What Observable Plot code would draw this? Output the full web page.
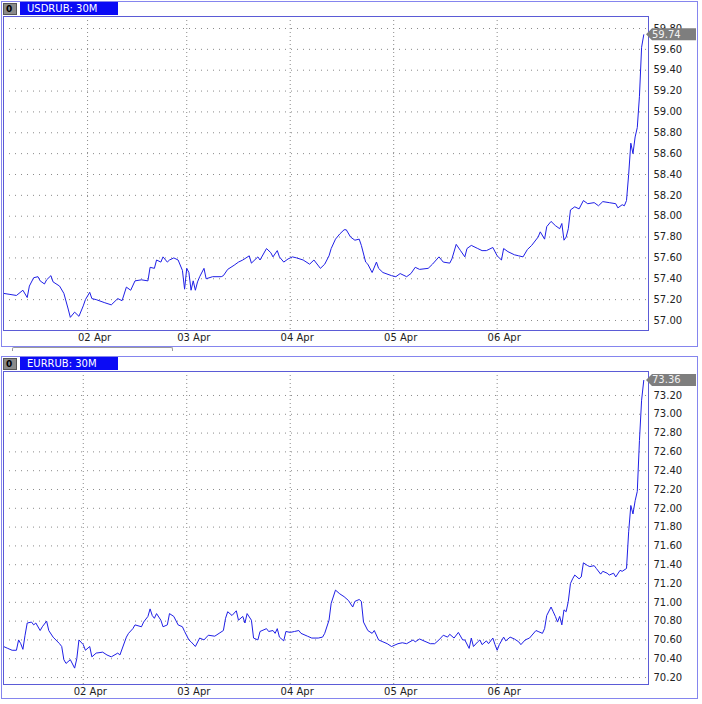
<!DOCTYPE html>
<html><head><meta charset="utf-8">
<script src="https://cdn.jsdelivr.net/npm/d3@7"></script>
<script src="https://cdn.jsdelivr.net/npm/@observablehq/plot@0.6"></script>
<style>
body{margin:0;background:#fff;font-family:"DejaVu Sans",sans-serif;}
.panel{position:absolute;left:1px;width:697px;border:1px solid #8585ee;box-sizing:border-box;background:#fff;}
.hdr{position:absolute;left:0;top:0;height:14px;width:100%;}
.zero{position:absolute;left:1px;top:1px;width:14px;height:12px;background:#8a8a8a;border:1px solid #555;box-sizing:border-box;font-size:9px;font-weight:bold;line-height:10px;padding-left:2px;color:#000;}
.sym{position:absolute;left:18px;top:0;width:98px;height:14px;background:#0b0bf5;color:#fff;font-size:10px;line-height:14px;padding-left:7px;box-sizing:border-box;}
.chart{position:absolute;left:0;}
.scroll{position:absolute;left:12px;top:347px;width:159px;height:3px;border:1px solid #999;border-bottom:none;border-radius:2px 2px 0 0;}
</style>
</head><body>
<div class="panel" id="p1" style="top:1px;height:346px;">
  <div class="hdr"><div class="zero">0</div><div class="sym">USDRUB: 30M</div></div>
  <div class="chart" id="c1" style="top:13px;"></div>
</div>
<div class="scroll"></div>
<div class="panel" id="p2" style="top:356px;height:343px;">
  <div class="hdr" style="top:0"><div class="zero">0</div><div class="sym">EURRUB: 30M</div></div>
  <div class="chart" id="c2" style="top:13px;"></div>
</div>
<script>
// ---- data (x = 30-minute bar index, y = price) ----
const usdBars = [0,3,6,9,11,12,14,16,17,19,20,22,23,26,28,30,31,33,35,37,38,40,41,43,47,50,53,55,57,59,61,64,67,68,70,71,73,74,76,77,79,81,83,84,85,86,87,88,89,90,91,93,94,97,101,102,104,107,109,111,114,115,118,119,122,124,125,127,128,130,132,134,136,139,142,144,147,149,151,152,154,156,158,159,161,163,165,166,168,169,171,173,174,176,180,182,184,187,189,191,193,197,199,202,204,207,208,210,212,214,215,217,220,222,224,227,229,231,232,234,237,239,241,243,245,248,249,251,252,254,256,258,259,260,261,262,263,265,267,269,271,274,276,278,281,284,285,287,288,289,290,291,292,293,294,295,296,297];
const usdValues = [57.26,57.25,57.24,57.29,57.22,57.33,57.41,57.42,57.38,57.35,57.39,57.43,57.37,57.33,57.26,57.11,57.03,57.08,57.04,57.14,57.20,57.27,57.21,57.20,57.17,57.15,57.21,57.19,57.32,57.29,57.38,57.39,57.38,57.51,57.50,57.58,57.56,57.61,57.56,57.58,57.60,57.58,57.48,57.30,57.50,57.46,57.29,57.38,57.29,57.37,57.42,57.50,57.40,57.42,57.42,57.43,57.49,57.53,57.56,57.58,57.62,57.55,57.61,57.58,57.69,57.65,57.61,57.67,57.61,57.56,57.59,57.61,57.60,57.58,57.54,57.58,57.50,57.54,57.62,57.69,57.78,57.83,57.87,57.87,57.80,57.77,57.78,57.72,57.56,57.54,57.46,57.56,57.50,57.46,57.43,57.42,57.45,57.42,57.45,57.51,57.49,57.50,57.54,57.61,57.56,57.55,57.59,57.73,57.67,57.61,57.69,57.72,57.69,57.67,57.67,57.70,57.62,57.58,57.69,57.66,57.63,57.62,57.61,57.68,57.72,57.80,57.85,57.78,57.90,57.95,57.91,57.88,57.93,57.77,57.80,57.88,58.06,58.09,58.07,58.15,58.12,58.13,58.10,58.14,58.13,58.12,58.08,58.11,58.10,58.15,58.40,58.70,58.60,58.76,58.85,59.15,59.62,59.74];

const eurBars = [0,2,4,6,7,8,9,10,11,13,14,15,17,18,20,21,23,26,27,28,29,31,33,34,35,37,38,40,41,43,46,48,50,53,54,57,58,60,61,64,65,67,68,69,70,71,73,74,76,77,79,81,83,84,86,87,89,91,93,95,98,100,102,103,104,106,108,109,111,112,113,115,116,118,119,122,123,125,126,127,128,130,131,133,135,137,138,141,143,146,148,149,151,152,154,156,158,160,162,163,165,166,167,169,171,172,174,176,178,180,183,185,187,190,191,193,196,198,200,202,204,206,207,209,211,213,214,216,217,218,220,221,222,224,225,227,228,229,230,232,233,235,237,239,240,242,244,247,248,250,251,252,254,255,256,257,258,259,260,261,262,263,264,265,267,268,269,271,272,274,275,277,278,280,281,283,284,286,287,289,290,291,292,293,294,295,296,297];
const eurValues = [70.53,70.51,70.49,70.49,70.60,70.56,70.50,70.65,70.78,70.79,70.76,70.78,70.70,70.74,70.80,70.70,70.63,70.56,70.53,70.39,70.35,70.39,70.30,70.40,70.60,70.55,70.49,70.53,70.42,70.46,70.47,70.44,70.42,70.46,70.44,70.63,70.67,70.72,70.76,70.74,70.79,70.85,70.93,70.86,70.83,70.88,70.81,70.74,70.76,70.88,70.85,70.76,70.74,70.69,70.60,70.58,70.53,70.62,70.60,70.65,70.64,70.67,70.70,70.83,70.90,70.86,70.91,70.81,70.85,70.78,70.88,70.81,70.62,70.60,70.69,70.72,70.69,70.70,70.67,70.72,70.63,70.59,70.69,70.68,70.69,70.70,70.67,70.64,70.62,70.62,70.63,70.67,70.81,70.99,71.13,71.09,71.06,71.02,70.95,71.01,71.03,71.01,70.79,70.70,70.67,70.70,70.60,70.58,70.56,70.53,70.56,70.57,70.56,70.60,70.58,70.61,70.58,70.56,70.56,70.60,70.65,70.63,70.66,70.62,70.68,70.60,70.60,70.51,70.62,70.53,70.58,70.60,70.55,70.59,70.56,70.62,70.55,70.49,70.55,70.63,70.59,70.63,70.61,70.58,70.55,70.60,70.62,70.70,70.69,70.67,70.72,70.86,70.95,70.90,70.85,70.79,70.85,70.76,70.92,70.90,71.01,71.20,71.25,71.29,71.25,71.27,71.42,71.39,71.38,71.39,71.36,71.30,71.33,71.31,71.29,71.31,71.27,71.34,71.33,71.36,71.75,72.03,71.94,72.08,72.18,72.72,73.15,73.36];

const dayLabels = ["02 Apr","03 Apr","04 Apr","05 Apr","06 Apr"];
const usdDayBars = [39,85,133,181,229];
const eurDayBars = [37,85,133,181,229];
const usdTicks = [57.00,57.20,57.40,57.60,57.80,58.00,58.20,58.40,58.60,58.80,59.00,59.20,59.40,59.60,59.80];
const eurTicks = [70.20,70.40,70.60,70.80,71.00,71.20,71.40,71.60,71.80,72.00,72.20,72.40,72.60,72.80,73.00,73.20];

const W = 694, MR = 48, ML = 1;
const lineColor = "#1f1fe6", gridColor = "#8a8a8a", frameColor = "#5b5bd6";

function chart(bars, values, dayBars, ticks, yDomain, height, mb) {
  const data = bars.map((b, i) => ({bar: b, value: values[i]}));
  const plot = Plot.plot({
    width: W, height, marginLeft: ML, marginRight: MR, marginTop: 1, marginBottom: mb,
    style: {fontFamily: "DejaVu Sans, sans-serif", fontSize: "10px", color: "#222", background: "white"},
    x: {type: "linear", domain: [0, 299.2]},
    y: {domain: yDomain},
    marks: [
      Plot.gridY(ticks, {stroke: gridColor, strokeOpacity: 1, strokeDasharray: "1,5"}),
      Plot.gridX(dayBars, {stroke: gridColor, strokeOpacity: 1, strokeDasharray: "1,3"}),
      Plot.axisY(ticks, {anchor: "right", tickSize: 0, tickPadding: 5, tickFormat: d3.format(".2f"), label: null, fill: "#222"}),
      Plot.axisX(dayBars, {anchor: "bottom", tickSize: 0, tickPadding: 3, dx: 7, tickFormat: (d, i) => dayLabels[dayBars.indexOf(d)], label: null, fill: "#222"}),
      Plot.lineY(data, {x: "bar", y: "value", stroke: lineColor, strokeWidth: 1}),
      Plot.frame({stroke: frameColor, strokeWidth: 1})
    ]
  });
  // last-price tag in the right margin, positioned via the plot's y scale
  const last = values[values.length - 1];
  const yy = plot.scale("y").apply(last);
  const x0 = W - MR;
  const g = d3.select(plot).append("g");
  g.append("path")
    .attr("d", `M${x0 - 2},${yy} L${x0 + 4},${yy - 6} H${W} V${yy + 6} H${x0 + 4} Z`)
    .attr("fill", "#7e7e7e");
  g.append("text").attr("x", x0 + 4).attr("y", yy).attr("dy", "0.35em")
    .attr("text-anchor", "start")
    .attr("fill", "#f2f2f2").attr("font-size", 10).attr("font-family", "DejaVu Sans, sans-serif")
    .text(last.toFixed(2));
  return plot;
}

document.getElementById("c1").append(chart(usdBars, usdValues, usdDayBars, usdTicks, [56.904, 59.915], 330, 15));
document.getElementById("c2").append(chart(eurBars, eurValues, eurDayBars, eurTicks, [70.126, 73.455], 327, 13));
</script>
</body></html>
